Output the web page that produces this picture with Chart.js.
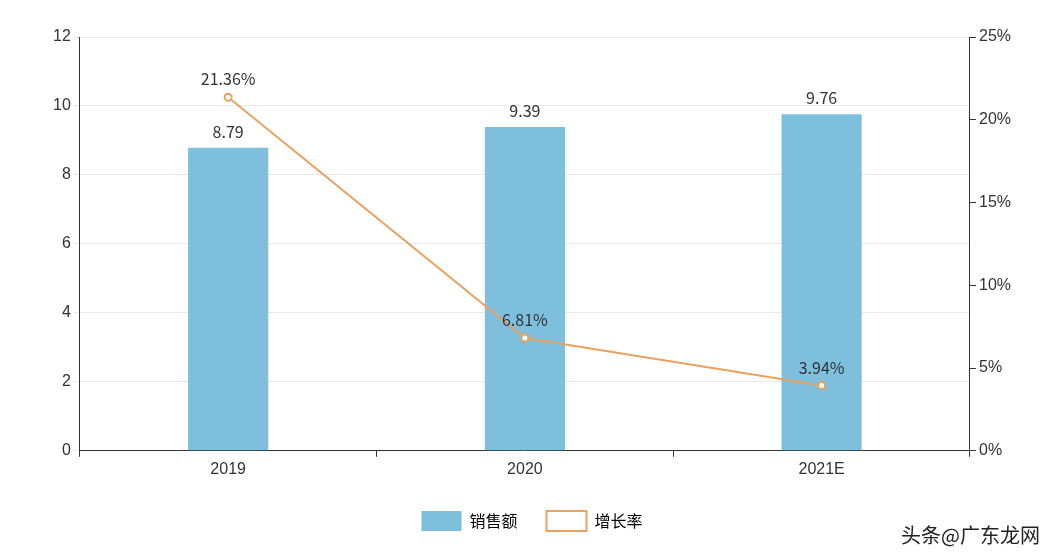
<!DOCTYPE html>
<html><head><meta charset="utf-8">
<script src="https://cdn.jsdelivr.net/npm/chart.js@4"></script>
<style>body{margin:0;background:#fff}#w{width:1054px;height:553px;position:relative}</style>
</head><body><div id="w"><canvas id="c"></canvas></div>
<script>
const categories=["2019","2020","2021E"];
const sales=[8.79,9.39,9.76];
const growth=[21.36,6.81,3.94];
const labelsPlugin={id:'lbl',afterDatasetsDraw(ch){const c=ch.ctx;c.save();c.font='16px "Noto Sans CJK SC", sans-serif';c.fillStyle='#333';c.textAlign='center';c.textBaseline='bottom';
ch.getDatasetMeta(1).data.forEach((e,i)=>c.fillText(sales[i].toFixed(2),e.x,e.y-8));
ch.getDatasetMeta(0).data.forEach((e,i)=>c.fillText(growth[i].toFixed(2)+'%',e.x,e.y-10));
c.fillStyle='#222';c.font='20px "Noto Sans CJK SC", sans-serif';c.textAlign='right';c.fillText('头条@广东龙网',1040,545);c.restore();}};
new Chart(document.getElementById('c'),{data:{labels:categories,datasets:[
{type:'line',label:'增长率',data:growth,yAxisID:'y1',borderColor:'#e9a25f',backgroundColor:'#fff',pointBorderColor:'#e9a25f',pointBackgroundColor:'#fff',pointRadius:3.5,borderWidth:2,order:0},
{type:'bar',label:'销售额',data:sales,yAxisID:'y',backgroundColor:'#7dbfdd',barPercentage:0.27,categoryPercentage:1,order:1}
]},options:{responsive:true,maintainAspectRatio:false,animation:false,
layout:{padding:{left:50,right:40,top:37,bottom:12}},
plugins:{legend:{position:'bottom',labels:{font:{size:16,family:'"Noto Sans CJK SC"'},color:'#333',boxWidth:40,boxHeight:20,padding:29,
generateLabels(ch){return [{text:'销售额',fillStyle:'#7dbfdd',strokeStyle:'#7dbfdd',lineWidth:0,datasetIndex:1},{text:'增长率',fillStyle:'#fff',strokeStyle:'#e9a25f',lineWidth:2,datasetIndex:0}];}}},tooltip:{enabled:false}},
scales:{x:{grid:{offset:true,drawOnChartArea:false,color:'#333',tickLength:6},border:{color:'#333'},ticks:{font:{size:16},color:'#333'}},
y:{min:0,max:12,ticks:{stepSize:2,font:{size:16},color:'#333'},grid:{color:'#e8e8e8',tickLength:6},border:{color:'#333'}},
y1:{position:'right',min:0,max:25,ticks:{stepSize:5,callback:v=>v+'%',font:{size:16},color:'#333'},grid:{drawOnChartArea:false,color:'#333',tickLength:6},border:{color:'#333'}}}},
plugins:[labelsPlugin]});
</script></body></html>
